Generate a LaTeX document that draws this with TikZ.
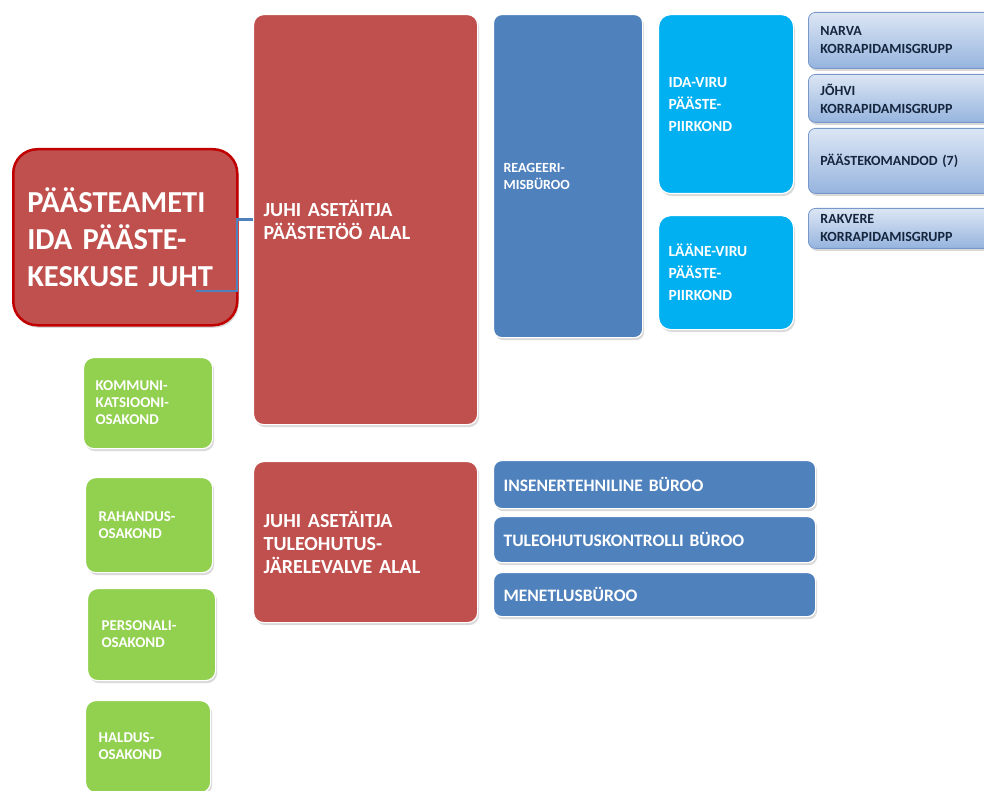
\documentclass[tikz,border=0pt]{standalone}
\usepackage{fontspec}
\setmainfont{Carlito}[WordSpace=0.8]
\usetikzlibrary{shadows}
\definecolor{chiefred}{RGB}{192,80,77}
\definecolor{chiefline}{RGB}{192,0,0}
\definecolor{steel}{RGB}{79,129,189}
\definecolor{skyblue}{RGB}{0,176,240}
\definecolor{leafgreen}{RGB}{146,208,80}
\definecolor{paletop}{RGB}{220,230,244}
\definecolor{palebot}{RGB}{150,180,222}
\definecolor{paleline}{RGB}{120,152,204}
\definecolor{navytext}{RGB}{20,37,61}
\begin{document}
\begin{tikzpicture}[x=1pt,y=-1pt,
	box/.style={anchor=north west,draw=white,line width=1.2pt,text=white,align=left,
		inner xsep=10pt,inner ysep=0pt,font=\bfseries,
		drop shadow={opacity=0.3,shadow xshift=1.5pt,shadow yshift=-2.5pt}},
	sz/.style n args={2}{minimum width=#1pt,minimum height=#2pt,
		/utils/exec={\pgfmathsetmacro\boxtw{#1-2*\pgfkeysvalueof{/pgf/inner xsep}}},text width=\boxtw pt},
	redbox/.style={box,fill=chiefred,rounded corners=10pt,font=\bfseries\fontsize{20}{23}\selectfont},
	bluebox/.style={box,fill=steel,rounded corners=8pt},
	skybox/.style={box,fill=skyblue,rounded corners=12pt,font=\bfseries\fontsize{15.5}{22}\selectfont},
	greenbox/.style={box,fill=leafgreen,rounded corners=10pt,font=\bfseries\fontsize{15}{17}\selectfont},
	palebox/.style={box,draw=paleline,line width=0.8pt,top color=paletop,bottom color=palebot,
		rounded corners=7pt,text=navytext,inner xsep=12pt,font=\bfseries\fontsize{14}{18}\selectfont},
	link/.style={draw=steel,line width=2.2pt}]
	\useasboundingbox(0,0)rectangle(984,791);
	\clip(0,0)rectangle(984,791);
	% juht
	\node[box,fill=chiefred,draw=chiefline,line width=2.5pt,rounded corners=24pt,
		minimum width=224pt,minimum height=176pt,inner xsep=14pt,text width=196pt,
		font=\bfseries\fontsize{30.5}{37}\selectfont](chief)at(12,148)
		{PÄÄSTEAMETI\\IDA PÄÄSTE-\\KESKUSE JUHT};
	% asetaitjad
	\node[redbox,sz={224}{410}](red1)at(253,14){JUHI ASETÄITJA\\PÄÄSTETÖÖ ALAL};
	\node[redbox,sz={224}{161}](red2)at(253,461){JUHI ASETÄITJA\\TULEOHUTUS-\\JÄRELEVALVE ALAL};
	% bürood
	\node[bluebox,sz={149}{323},font=\bfseries\fontsize{14}{17}\selectfont](reag)at(493,14){REAGEERI-\\MISBÜROO};
	\node[bluebox,sz={322}{48},font=\bfseries\fontsize{17.5}{20}\selectfont](ins)at(493,460){INSENERTEHNILINE BÜROO};
	\node[bluebox,sz={322}{46},font=\bfseries\fontsize{17.5}{20}\selectfont](tule)at(493,516){TULEOHUTUSKONTROLLI BÜROO};
	\node[bluebox,sz={322}{44},font=\bfseries\fontsize{17.5}{20}\selectfont](men)at(493,572){MENETLUSBÜROO};
	% piirkonnad
	\node[skybox,sz={135}{179}](ida)at(658,14){IDA-VIRU\\PÄÄSTE-\\PIIRKOND};
	\node[skybox,sz={135}{114}](laane)at(658,215){LÄÄNE-VIRU\\PÄÄSTE-\\PIIRKOND};
	% grupid
	\node[palebox,sz={190}{56}](narva)at(808,12){NARVA\\KORRAPIDAMISGRUPP};
	\node[palebox,sz={190}{48}](johvi)at(808,74){JÕHVI\\KORRAPIDAMISGRUPP};
	\node[palebox,sz={190}{65}](kom)at(808,128){PÄÄSTEKOMANDOD (7)};
	\node[palebox,sz={190}{40}](rakv)at(808,208){RAKVERE\\KORRAPIDAMISGRUPP};
	% osakonnad
	\node[greenbox,inner xsep=12pt,sz={129}{91}](kommun)at(83,357){KOMMUNI-\\KATSIOONI-\\OSAKOND};
	\node[greenbox,inner xsep=13pt,sz={127}{95}](rah)at(85,477){RAHANDUS-\\OSAKOND};
	\node[greenbox,inner xsep=14pt,sz={128}{92}](pers)at(87,588){PERSONALI-\\OSAKOND};
	\node[greenbox,inner xsep=13pt,sz={125}{92}](hald)at(85,700){HALDUS-\\OSAKOND};
	% yhendus
	\coordinate(c1)at(196,291);
	\draw[link](c1)--++(41,0)|-(red1.west);
\end{tikzpicture}
\end{document}
